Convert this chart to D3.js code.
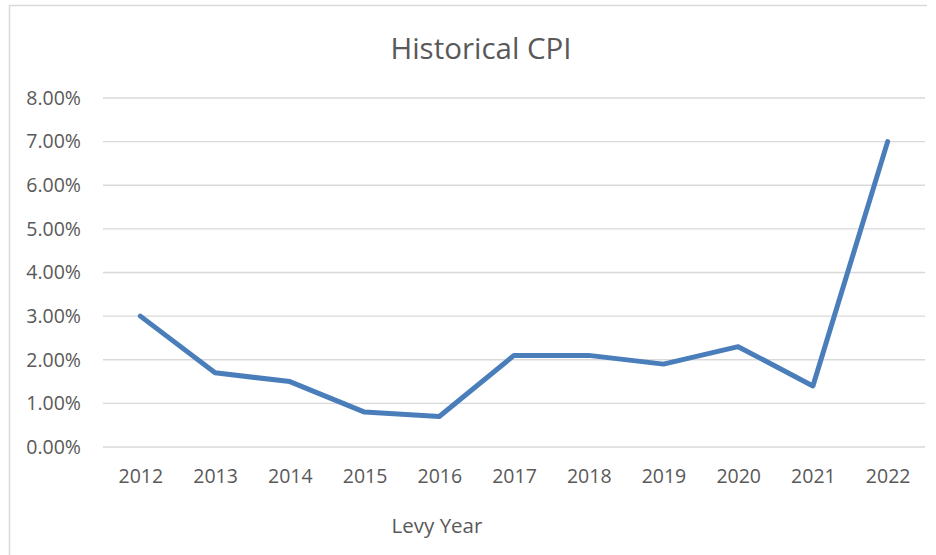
<!DOCTYPE html>
<html>
<head>
<meta charset="utf-8">
<script src="https://cdn.jsdelivr.net/npm/d3@7"></script>
<style>
  body { margin: 0; background: #fff; }
  text { font-family: "Open Sans", "Noto Sans", sans-serif; fill: #595959; }
</style>
</head>
<body>
<svg id="chart" width="936" height="555"></svg>
<script>
var years = ["2012", "2013", "2014", "2015", "2016", "2017", "2018", "2019", "2020", "2021", "2022"];
var cpi = [3.0, 1.7, 1.5, 0.8, 0.7, 2.1, 2.1, 1.9, 2.3, 1.4, 7.0];
var yTicks = [0, 1, 2, 3, 4, 5, 6, 7, 8];

function drawChart(){
    var svg = d3.select("#chart");
    var plot = { left: 103, right: 925, top: 98, bottom: 447 };

    // chart area border (only top and left visible in the crop)
    svg.append("path")
        .attr("d", "M9.5,560 V5.5 H927")
        .attr("fill", "none")
        .attr("stroke", "#d9d9d9")
        .attr("stroke-width", 1.5);

    var x = d3.scalePoint()
        .domain(years)
        .range([plot.left, plot.right])
        .padding(0.5);

    var y = d3.scaleLinear()
        .domain([0, 8])
        .range([plot.bottom, plot.top]);

    // gridlines
    svg.append("g")
        .selectAll("line")
        .data(yTicks)
        .join("line")
            .attr("x1", plot.left)
            .attr("x2", plot.right)
            .attr("y1", d => y(d))
            .attr("y2", d => y(d))
            .attr("stroke", "#d9d9d9")
            .attr("stroke-width", 1.3);

    // y axis labels
    var yAxis = svg.append("g")
        .attr("transform", "translate(" + (plot.left - 22) + ",0)")
        .call(d3.axisLeft(y).tickValues(yTicks).tickSize(0).tickPadding(0)
            .tickFormat(d => d.toFixed(2) + "%"));
    yAxis.select(".domain").remove();
    yAxis.selectAll("text")
        .attr("font-size", "19.5px")
        .attr("font-family", null)
        .attr("fill", "#595959");

    // x axis labels
    var xAxis = svg.append("g")
        .attr("transform", "translate(0," + plot.bottom + ")")
        .call(d3.axisBottom(x).tickSize(0).tickPadding(22));
    xAxis.select(".domain").remove();
    xAxis.selectAll("text")
        .attr("font-size", "19.5px")
        .attr("font-family", null)
        .attr("fill", "#595959");

    // line
    var line = d3.line()
        .x((d, i) => x(years[i]))
        .y(d => y(d));

    svg.append("path")
        .datum(cpi)
        .attr("d", line)
        .attr("fill", "none")
        .attr("stroke", "#4a7ebb")
        .attr("stroke-width", 5)
        .attr("stroke-linecap", "round")
        .attr("stroke-linejoin", "round");

    svg.append("text")
        .attr("x", 481)
        .attr("y", 59)
        .attr("text-anchor", "middle")
        .attr("font-size", "29.5px")
        .text("Historical CPI");

    svg.append("text")
        .attr("x", 437)
        .attr("y", 533)
        .attr("text-anchor", "middle")
        .attr("font-size", "20.5px")
        .text("Levy Year");
}

drawChart();
</script>
</body>
</html>
